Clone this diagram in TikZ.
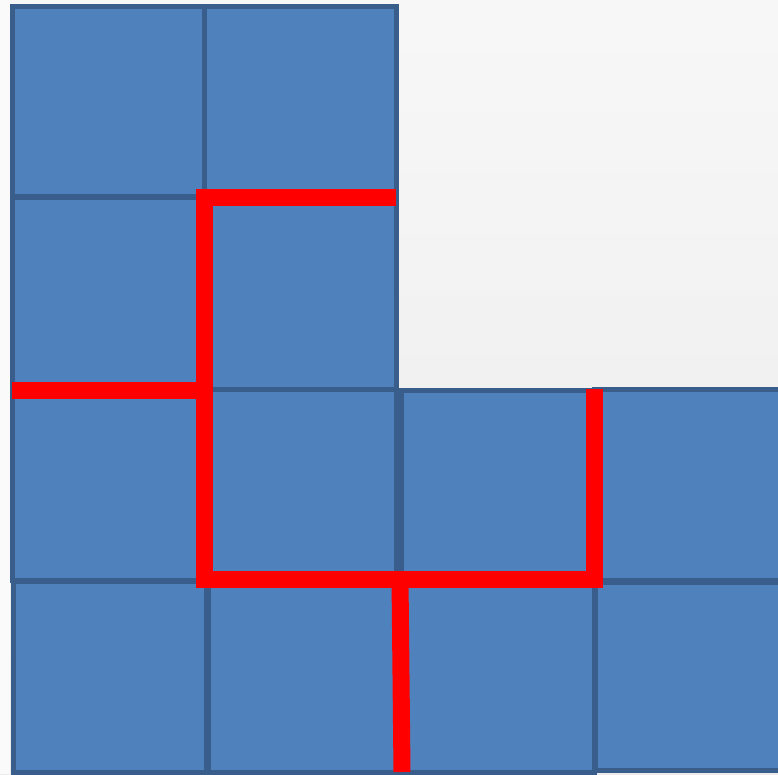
\documentclass[tikz,border=0pt]{standalone}
\begin{document}
\begin{tikzpicture}[x=1pt,y=-1pt,
  tile/.style={fill=tilefill,draw=tileedge,line width=5pt},
  cut/.style={draw=cutred,line width=17pt,line cap=butt,line join=miter}]
\definecolor{tilefill}{HTML}{4F81BD}
\definecolor{tileedge}{HTML}{3A5E8C}
\definecolor{cutred}{HTML}{FF0000}
\useasboundingbox (0,0) rectangle (778,774);
\shade[top color=white!97!black,bottom color=white!92!black] (0,0) rectangle (778,774);
\fill[white!98!black] (0,0) rectangle (10,774);
% row 1
\draw[tile] (12,6) rectangle (204,196);
\draw[tile] (204,6) rectangle (396,196);
% row 2
\draw[tile] (12,197) rectangle (202,389);
\draw[tile] (204,196) rectangle (396,389);
% row 3
\draw[tile] (12,389) rectangle (204,580);
\draw[tile] (208,389) rectangle (396,578);
\draw[tile] (401,390) rectangle (594,578);
\draw[tile] (594,389) rectangle (782,580);
% row 4
\draw[tile] (13,581) rectangle (206,772);
\draw[tile] (208,581) rectangle (400,772);
\draw[tile] (400,581) rectangle (594,772);
\draw[tile] (595,582) rectangle (782,770);
% red cuts
\coordinate (c1) at (396,197);
\coordinate (c2) at (204,197);
\coordinate (c3) at (204,579);
\coordinate (c4) at (594,579);
\coordinate (c5) at (594,389);
\coordinate (l1) at (12,390);
\coordinate (l2) at (204,390);
\coordinate (b1) at (400,579);
\coordinate (b2) at (402,772);
\draw[cut] (c1) -- (c2) -- (c3) -- (c4) -- (c5);
\draw[cut] (l1) -- (l2);
\draw[cut] (b1) -- (b2);
\end{tikzpicture}
\end{document}
